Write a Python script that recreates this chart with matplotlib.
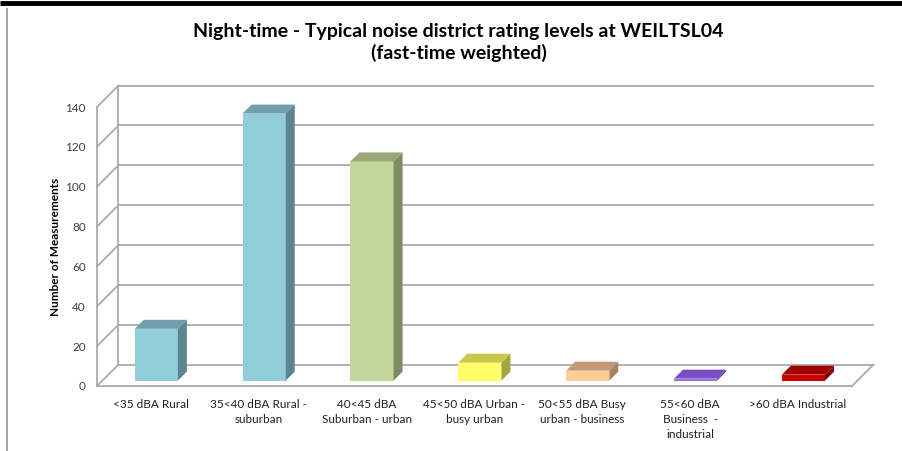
import matplotlib.pyplot as plt
from matplotlib.patches import Polygon
from matplotlib.lines import Line2D

plt.rcParams['font.family'] = ['Lato', 'DejaVu Sans']

# data
categories = ['<35 dBA Rural', '35<40 dBA Rural -\nsuburban', '40<45 dBA\nSuburban - urban',
              '45<50 dBA Urban -\nbusy urban', '50<55 dBA Busy\nurban - business',
              '55<60 dBA\nBusiness  -\nindustrial', '>60 dBA Industrial']
counts = [26, 134, 110, 9, 5, 1, 3]
yticks = [0, 20, 40, 60, 80, 100, 120, 140]

front_colors = ['#92CDDC', '#92CDDC', '#C3D69B', '#FFFF66', '#FFCC99', '#9575DD', '#CC0000']
top_colors = ['#70A0AC', '#70A0AC', '#98A87A', '#C8C84A', '#C49A74', '#7A4FC4', '#A00000']
side_colors = ['#5E8490', '#5E8490', '#7E8C64', '#A6A63E', '#A8845E', '#6642A8', '#880000']

fig = plt.figure(figsize=(9.03, 4.51), dpi=100)
# front plane of the fake 3d box
ax = fig.add_axes([97 / 903, 65 / 451, 755 / 903, 279 / 451])
ax.set_xlim(0, len(categories))
ax.set_ylim(0, 140)
for s in ax.spines.values():
    s.set_visible(False)

# depth offset of the box in data units
DX = 21.5 / (755 / 7)
DY = 21.5 / (279 / 140)
grid_c = '#ABABAB'
n = len(categories)

def line(xs, ys):
    ax.add_line(Line2D(xs, ys, color=grid_c, lw=1.3, clip_on=False, zorder=1))

for v in yticks:
    line([0, DX], [v, v + DY])
    line([DX, n + DX], [v + DY, v + DY])
line([0, 0], [0, 140])
line([DX, DX], [DY, 140 + DY])
line([0, n], [0, 0])
line([n, n + DX], [0, DY])

# bars
f0 = 0.25
dd = 9 / 21.5
w = 0.2
for i, v in enumerate(counts):
    x0 = i + 0.5 - w + f0 * DX
    x1 = i + 0.5 + w + f0 * DX
    y0 = f0 * DY
    y1 = v + f0 * DY
    ex, ey = dd * DX, dd * DY
    ax.add_patch(Polygon([(x0, y0), (x1, y0), (x1, y1), (x0, y1)], closed=True,
                         fc=front_colors[i], ec='none', zorder=3, clip_on=False))
    ax.add_patch(Polygon([(x0, y1), (x1, y1), (x1 + ex, y1 + ey), (x0 + ex, y1 + ey)], closed=True,
                         fc=top_colors[i], ec='none', zorder=3, clip_on=False))
    ax.add_patch(Polygon([(x1, y0), (x1, y1), (x1 + ex, y1 + ey), (x1 + ex, y0 + ey)], closed=True,
                         fc=side_colors[i], ec='none', zorder=3, clip_on=False))

ax.set_yticks(yticks)
ax.set_yticklabels([str(t) for t in yticks], fontsize=8.5, color='#404040')
ax.set_xticks([i + 0.5 for i in range(n)])
ax.set_xticklabels(categories, fontsize=8.5, color='#202020')
for t in ax.get_xticklabels():
    t.set_linespacing(1.45)
ax.tick_params(axis='y', length=0, pad=8)
ax.tick_params(axis='x', length=0, pad=9)

ax.set_ylabel('Number of Measurements', fontsize=8.5, fontweight='bold', labelpad=3)

fig.text(0.508, 0.906, 'Night-time - Typical noise district rating levels at WEILTSL04\n(fast-time weighted)',
         ha='center', va='center', fontsize=14, fontweight='bold', linespacing=1.3)

# frame pieces around the chart
fig.add_artist(Line2D([0, 1], [1 - 3 / 451, 1 - 3 / 451], color='black', lw=3.5, solid_capstyle='butt'))
fig.add_artist(Line2D([7 / 903, 7 / 903], [0, 1 - 9 / 451], color='#909090', lw=1.2))

fig.savefig('out.png', dpi=100)
